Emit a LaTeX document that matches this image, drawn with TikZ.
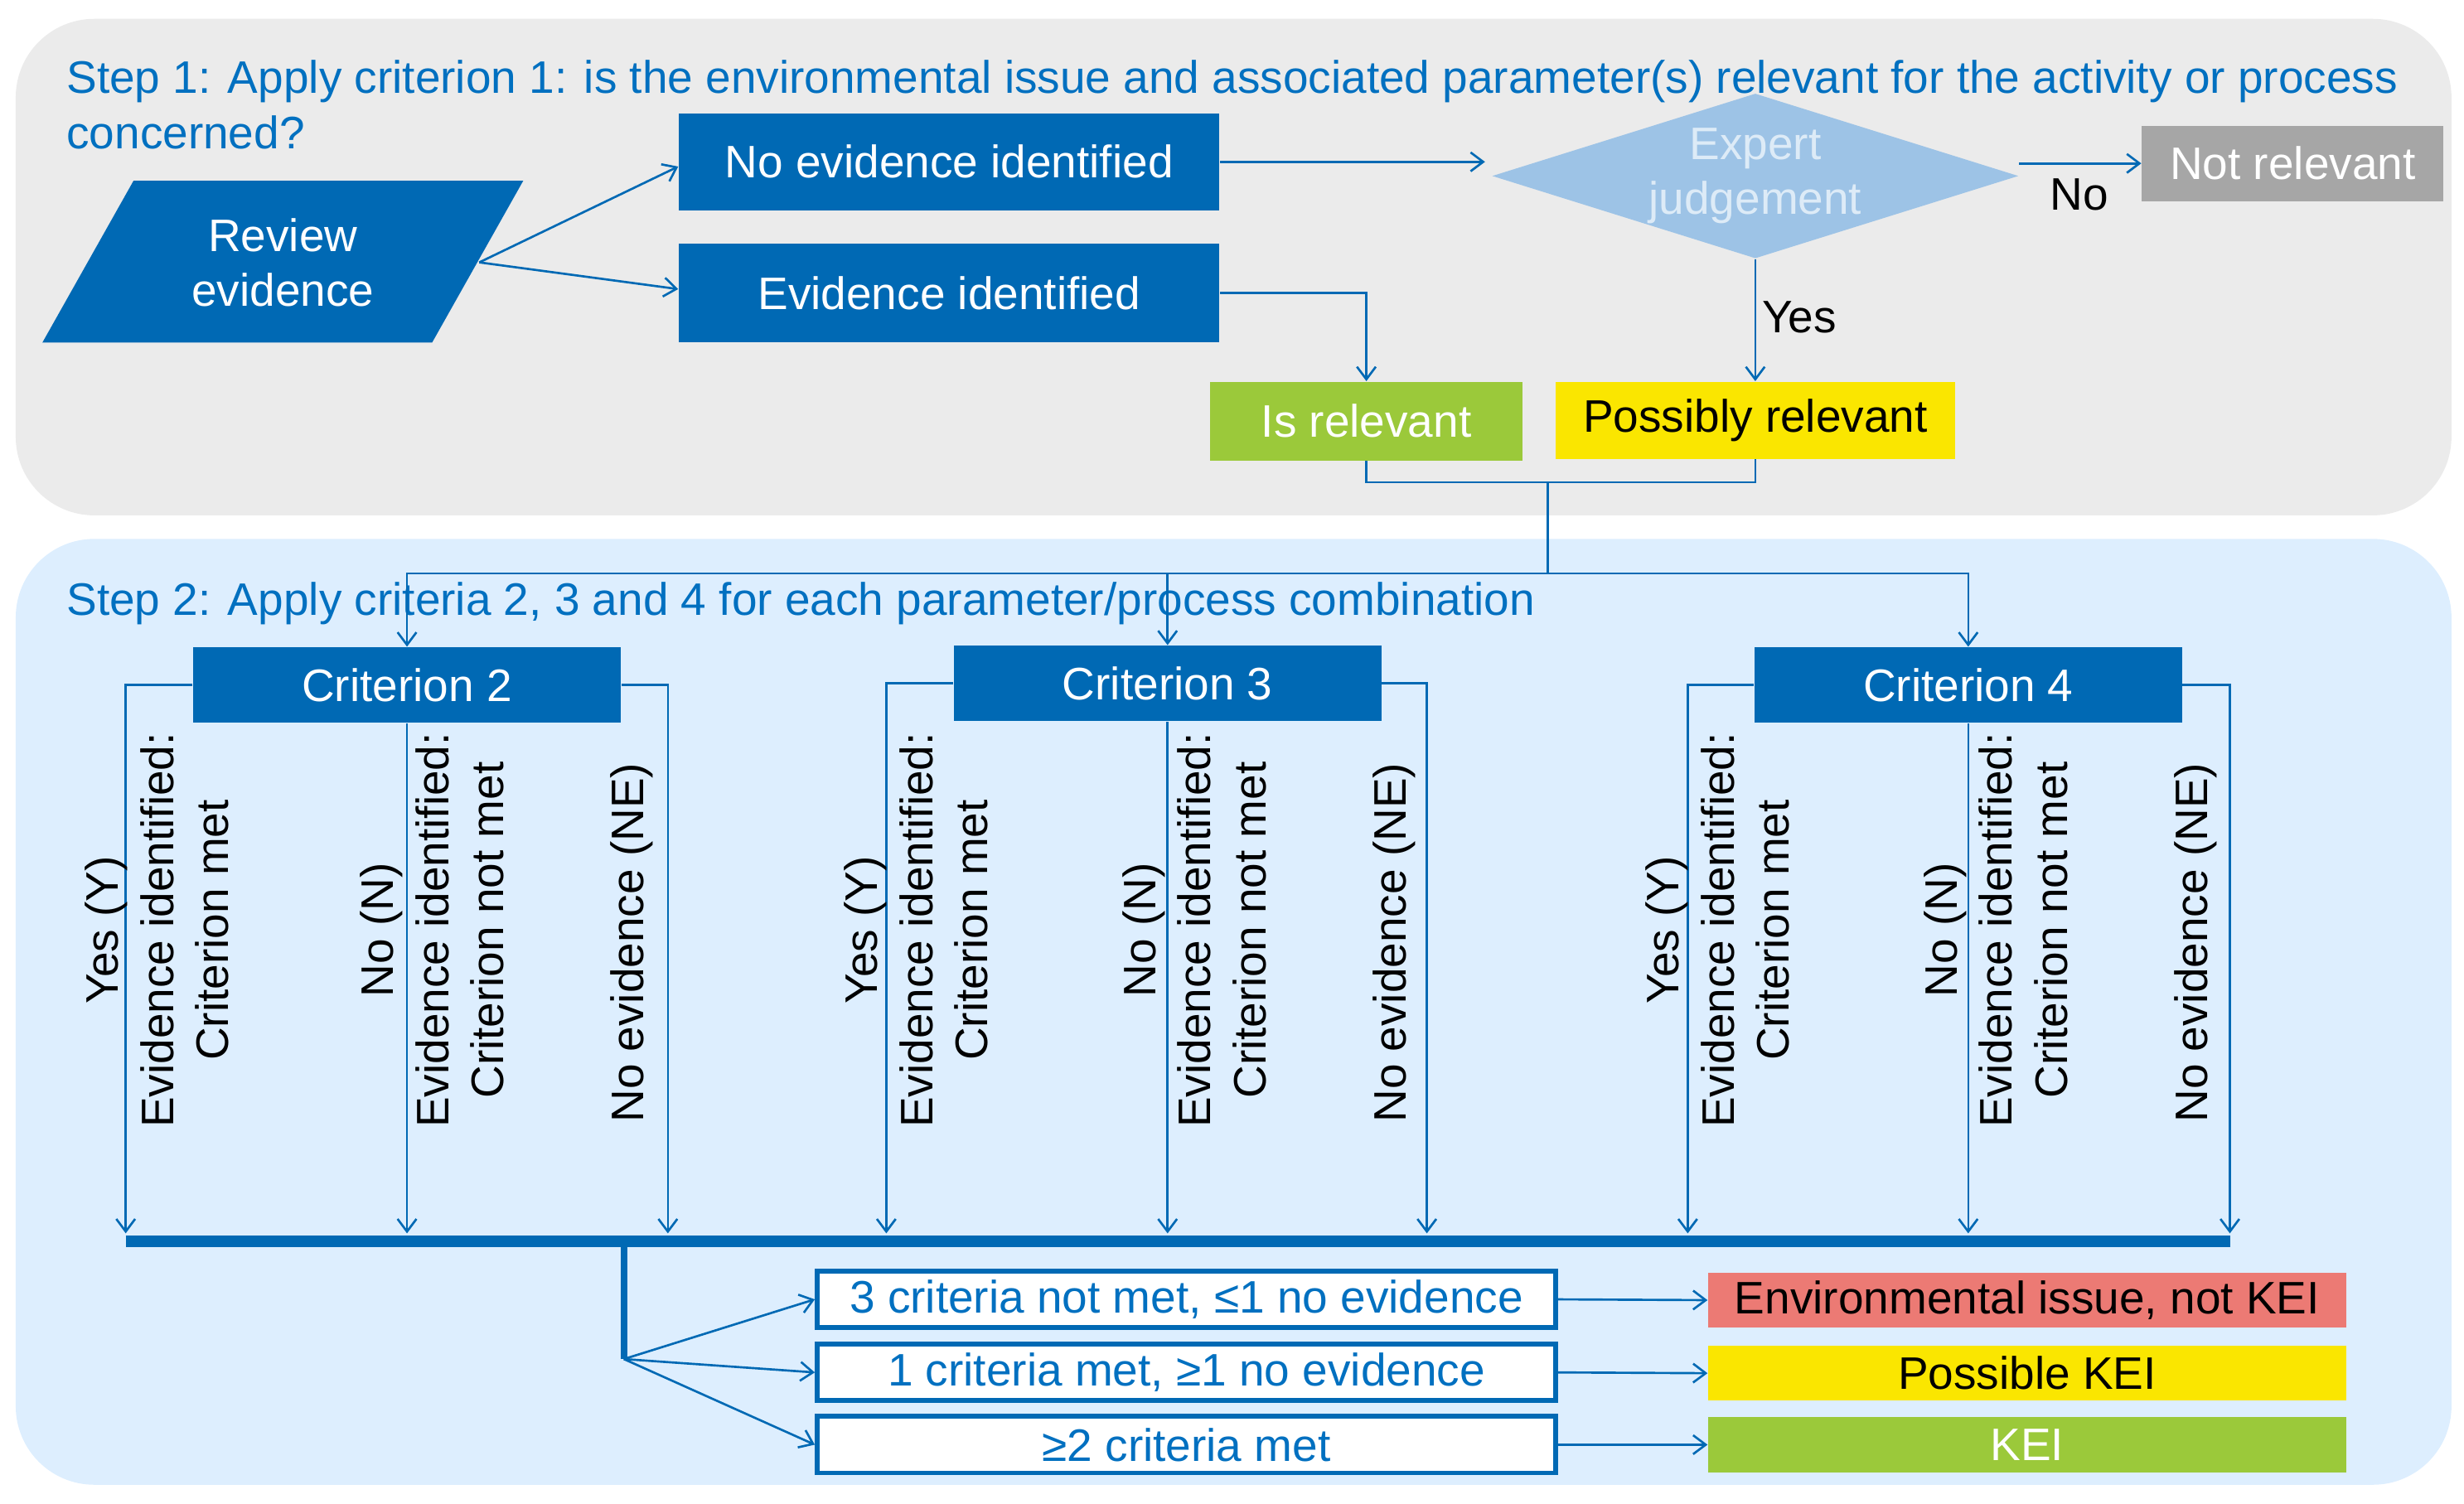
\documentclass[tikz,border=0pt]{standalone}
\usepackage{fontspec}
\setmainfont{Liberation Sans}
\usetikzlibrary{arrows.meta,shapes.geometric}
\definecolor{dblue}{HTML}{0069B4}
\definecolor{tblue}{HTML}{0070C0}
\definecolor{gbg}{HTML}{EBEBEB}
\definecolor{bbg}{HTML}{DDEEFE}
\definecolor{dia}{HTML}{9DC3E6}
\definecolor{diatext}{HTML}{DDEBF7}
\definecolor{grey}{HTML}{A6A6A6}
\definecolor{green}{HTML}{9BC93A}
\definecolor{yell}{HTML}{FAE600}
\definecolor{red}{HTML}{EC7A74}
\begin{document}
\begin{tikzpicture}[x=0.5pt,y=-0.5pt,
  font=\fontsize{14.5}{17.5}\selectfont,
  box/.style={inner sep=0, minimum width=#1},
  dbox/.style={box=#1, fill=dblue, text=white},
  con/.style={draw=dblue, line width=0.7pt},
  arr/.style={con, -{Straight Barb[length=4pt,width=6pt]}},
  rbox/.style={box=235pt, minimum height=18pt, fill=white, draw=dblue, line width=1.5pt, text=tblue},
  obox/.style={box=203pt, minimum height=17.5pt},
  vt/.style={rotate=90, align=center, text=black}]
\useasboundingbox (0,0) rectangle (1568,957);
% backgrounds
\fill[gbg, rounded corners=25pt] (10,12) rectangle (1560,328);
\fill[bbg, rounded corners=25pt] (10,343) rectangle (1560,945);
% titles
\node[anchor=north west, align=left, text=tblue, inner sep=0] (t1) at (42,38) {Step 1: Apply criterion 1: is the environmental issue and associated parameter(s) relevant for the activity or process\\concerned?};
% review evidence
\fill[dblue] (27,218) -- (85,115) -- (333,115) -- (275,218) -- cycle;
\node[align=center, text=white] (rev) at (180,167) {Review\\evidence};
\coordinate (revr) at (305,167);
\node[dbox=172pt, minimum height=31pt] (noev) at (604,103) {No evidence identified};
\node[dbox=172pt, minimum height=31.5pt] (ev) at (604,186.5) {Evidence identified};
\node[diamond, aspect=3.2, fill=dia, inner sep=0, minimum width=167.5pt, minimum height=52.5pt, align=center, text=diatext] (dia) at (1117,112) {Expert\\judgement};
\node[box=96pt, minimum height=24pt, fill=grey, text=white] (notrel) at (1459,104) {Not relevant};
\node[box=99.5pt, minimum height=25pt, fill=green, text=white] (isrel) at (869.5,268) {Is relevant};
\node[box=127pt, minimum height=24.5pt, fill=yell, text=black] (poss) at (1117,267.5) {Possibly relevant};
\draw[arr] (revr) -- (noev.west|-0,106);
\draw[arr] (revr) -- (ev.west|-0,184);
\draw[arr] (noev.east) -- (945,103);
\draw[arr] (dia.east|-0,104) -- (notrel.west);
\node[text=black] (no) at (1323,124) {No};
\draw[arr] (dia.south) -- (poss.north);
\node[text=black] (yes) at (1145,202) {Yes};
\draw[arr] (ev.east) -| (isrel.north);
\coordinate (m) at (985,307);
\coordinate (b) at (985,365);
\draw[con] (isrel.south) |- (m);
\draw[con] (poss.south) |- (m);
\draw[con] (m) -- (b);
% step 2
\node[anchor=west, text=tblue, inner sep=0] (t2) at (42,384) {Step 2: Apply criteria 2, 3 and 4 for each parameter/process combination};
\node[dbox=136pt, minimum height=24pt] (c2) at (259,436) {Criterion 2};
\node[dbox=136pt, minimum height=24pt] (c3) at (743,435) {Criterion 3};
\node[dbox=136pt, minimum height=24pt] (c4) at (1252.5,436) {Criterion 4};
\draw[arr] (b) -| (c2.north);
\draw[arr] (b) -| (c3.north);
\draw[arr] (b) -| (c4.north);
\foreach \c/\l/\r in {c2/80/425, c3/564/908, c4/1074/1419}{
  \coordinate (\c L) at (\l,785);
  \coordinate (\c M) at (\c.south|-0,785);
  \coordinate (\c R) at (\r,785);
  \draw[arr] (\c.west) -| (\c L);
  \draw[arr] (\c.south) -- (\c M);
  \draw[arr] (\c.east) -| (\c R);
}
\foreach \c/\a/\b/\d in {c2/100/275/402, c3/583/760/887, c4/1093/1270/1397}{
  \node[vt] (\c y) at (\a,592) {Yes (Y)\\Evidence identified:\\Criterion met};
  \node[vt] (\c n) at (\b,592) {No (N)\\Evidence identified:\\Criterion not met};
  \node[vt] (\c ne) at (\d,600) {No evidence (NE)};
}
\coordinate (barL) at (80,790);
\coordinate (barR) at (1419,790);
\draw[draw=dblue, line width=3.5pt] (barL) -- (barR);
\coordinate (bt) at (397,790);
\coordinate (fork) at (397,865);
\draw[draw=dblue, line width=2pt] (bt) -- (fork);
\node[rbox] (r1) at (755,827) {3 criteria not met, ≤1 no evidence};
\node[rbox] (r2) at (755,873.5) {1 criteria met, ≥1 no evidence};
\node[rbox] (r3) at (755,919.5) {≥2 criteria met};
\node[obox, fill=red, text=black] (o1) at (1290,827.5) {Environmental issue, not KEI};
\node[obox, fill=yell, text=black] (o2) at (1290,874) {Possible KEI};
\node[obox, fill=green, text=white] (o3) at (1290,919.5) {KEI};
\foreach \i in {1,2,3}{
  \draw[arr] (fork) -- (r\i.west);
  \draw[arr] (r\i.east) -- (o\i.west);
}
\end{tikzpicture}
\end{document}
